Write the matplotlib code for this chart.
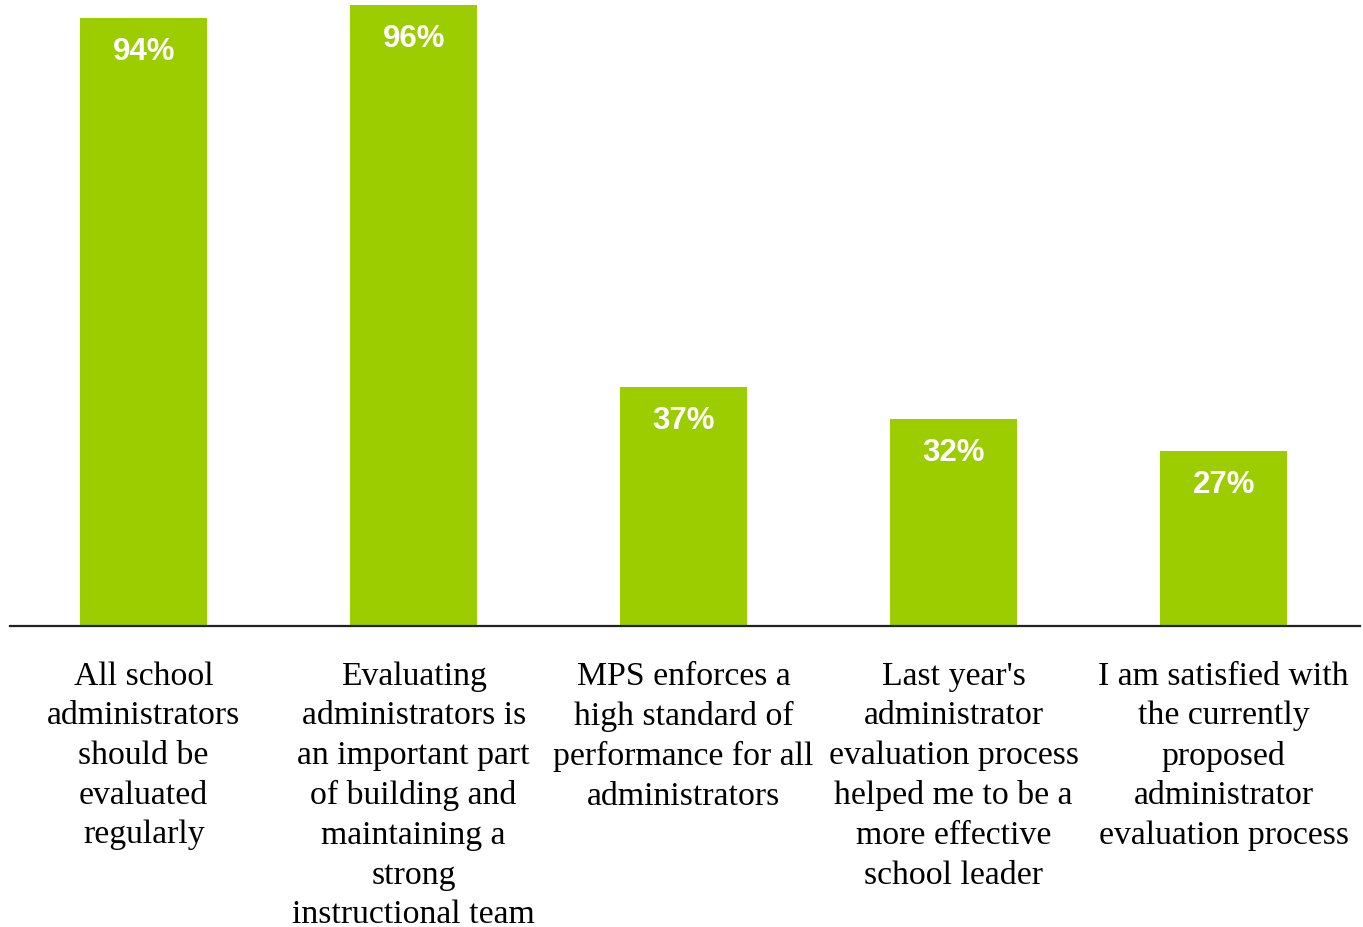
import matplotlib
matplotlib.use("Agg")
import matplotlib.pyplot as plt

categories = [
    "All school\nadministrators\nshould be\nevaluated\nregularly",
    "Evaluating\nadministrators is\nan important part\nof building and\nmaintaining a\nstrong\ninstructional team",
    "MPS enforces a\nhigh standard of\nperformance for all\nadministrators",
    "Last year's\nadministrator\nevaluation process\nhelped me to be a\nmore effective\nschool leader",
    "I am satisfied with\nthe currently\nproposed\nadministrator\nevaluation process",
]
values = [94, 96, 37, 32, 27]
value_labels = ["94%", "96%", "37%", "32%", "27%"]

W, H = 1363, 928
fig = plt.figure(figsize=(W / 100, H / 100), dpi=100)
ax = fig.add_axes([10 / W, 1 - 627 / H, 1350 / W, 627 / H])

x = list(range(len(values)))
bars = ax.bar(x, values, width=0.47, color="#9BCD00")
ax.set_xlim(-0.495, 4.505)
ax.set_ylim(0, 96.9)

for xi, v, lab in zip(x, values, value_labels):
    ax.annotate(lab, (xi, v), xytext=(0, -33), textcoords="offset pixels",
                ha="center", va="center", color="white", fontsize=22.5,
                fontweight="bold", family="Liberation Sans")

for s in ["top", "right", "left"]:
    ax.spines[s].set_visible(False)
ax.spines["bottom"].set_linewidth(1.6)
ax.spines["bottom"].set_color("#222222")
ax.set_yticks([])
ax.set_xticks(x)
ax.set_xticklabels(categories, family="Liberation Serif", fontsize=24.3,
                   linespacing=1.39, ha="center", va="top")
ax.tick_params(axis="x", length=0, pad=24.5)

fig.savefig("out.png", dpi=100)
